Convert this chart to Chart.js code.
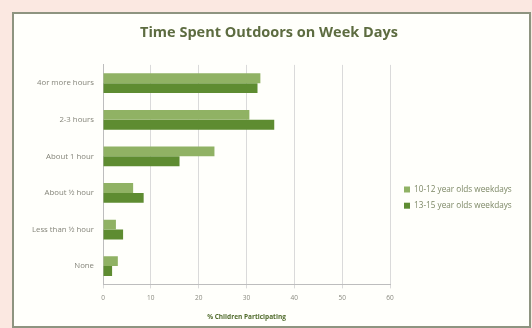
<!DOCTYPE html>
<html>
<head>
<meta charset="utf-8">
<script src="https://cdn.jsdelivr.net/npm/chart.js@4"></script>
<style>
  html, body { margin: 0; padding: 0; }
  body { width: 532px; height: 328px; background: #fbe8e1; position: relative; overflow: hidden; }
  .frame {
    position: absolute; left: 12px; top: 12px; width: 519px; height: 316px;
    background: #fffffb; border: 2px solid #8e9480; box-sizing: border-box;
  }
  .wrap { position: absolute; left: 15px; top: 15px; width: 517px; height: 310px; }
</style>
</head>
<body>
<div class="frame"></div>
<div class="wrap"><canvas id="chart"></canvas></div>
<script>
// chart data
const categories = ["4or more hours", "2-3 hours", "About 1 hour", "About \u00BD hour", "Less than \u00BD hour", "None"];
const olds10to12 = [32.9, 30.6, 23.3, 6.3, 2.7, 3.1];
const olds13to15 = [32.3, 35.8, 16.0, 8.5, 4.2, 1.9];
const xTicks = [0, 10, 20, 30, 40, 50, 60];

// nudge the legend a little away from the plot
const legendShift = {
  id: "legendShift",
  afterLayout(chart) {
    chart.legend.left += 6;
    chart.legend.right += 6;
  }
};

const ctx = document.getElementById("chart").getContext("2d");
new Chart(ctx, {
  type: "bar",
  data: {
    labels: categories,
    datasets: [
      {
        label: "10-12 year olds weekdays",
        data: olds10to12,
        backgroundColor: "#90b264",
        borderWidth: 0
      },
      {
        label: "13-15 year olds weekdays",
        data: olds13to15,
        backgroundColor: "#5e8c31",
        borderWidth: 0
      }
    ]
  },
  options: {
    indexAxis: "y",
    responsive: true,
    maintainAspectRatio: false,
    animation: false,
    layout: { padding: { left: 12, right: 21, top: 0, bottom: 4 } },
    categoryPercentage: 0.54,
    barPercentage: 1.0,
    plugins: {
      title: {
        display: true,
        text: "Time Spent Outdoors on Week Days",
        color: "#5d6c40",
        font: { family: "Open Sans", size: 14.5, weight: "bold" },
        padding: { top: 9, bottom: 23.5 }
      },
      legend: {
        position: "right",
        title: { display: true, text: " ", font: { size: 1 }, padding: { top: 58, bottom: 0 } },
        labels: {
          boxWidth: 6,
          boxHeight: 6,
          padding: 8,
          color: "#7d8866",
          font: { family: "Open Sans", size: 8.2 }
        }
      },
      tooltip: { enabled: false }
    },
    scales: {
      x: {
        min: 0,
        max: 60,
        afterBuildTicks: (axis) => { axis.ticks = xTicks.map(v => ({ value: v })); },
        grid: { color: "#dadada", tickLength: 4 },
        border: { color: "#bdbdbd" },
        ticks: { color: "#8a8a80", font: { family: "Open Sans", size: 6.5 }, padding: 6 },
        title: {
          display: true,
          text: "% Children Participating",
          color: "#4f6a2a",
          font: { family: "Open Sans", size: 6.5, weight: "bold" },
          padding: { top: 5, bottom: 0 }
        }
      },
      y: {
        grid: { display: false, drawTicks: false },
        border: { color: "#bdbdbd" },
        afterFit: (axis) => { axis.width = 76; },
        ticks: { color: "#85857a", font: { family: "Open Sans", size: 7.8 }, padding: 9 }
      }
    }
  },
  plugins: [legendShift]
});
</script>
</body>
</html>
